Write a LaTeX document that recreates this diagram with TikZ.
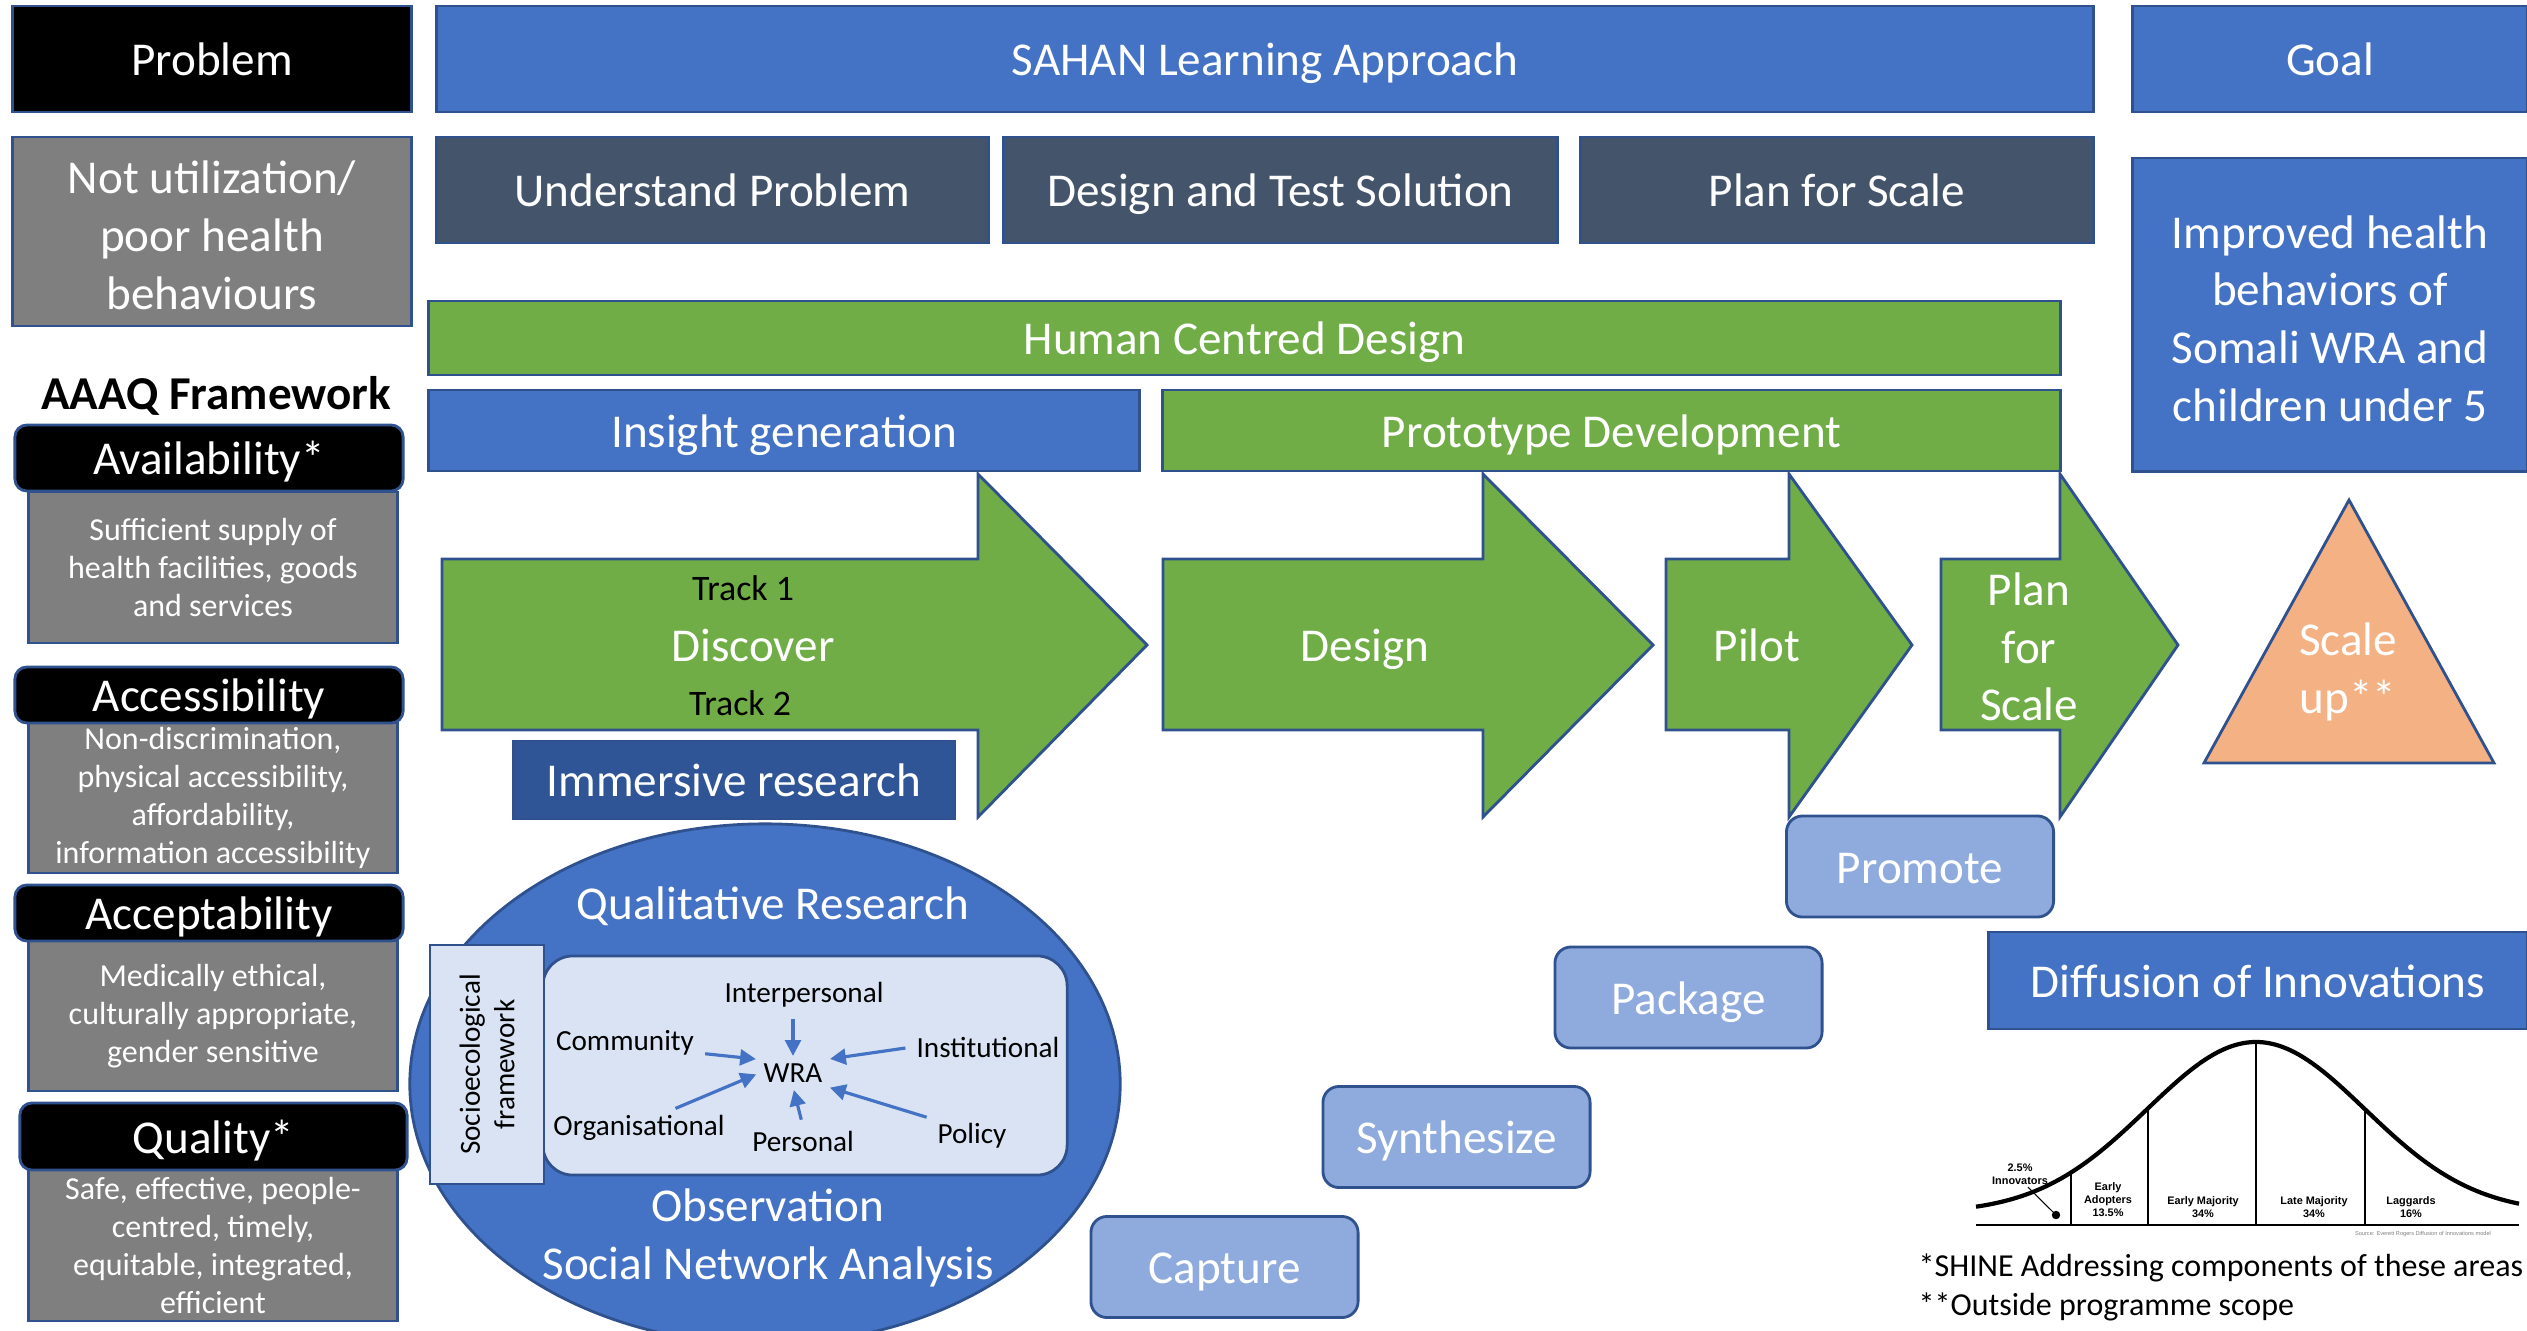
\documentclass[tikz,border=0pt]{standalone}
\usepackage{fontspec}
\setmainfont{Carlito}
\newfontfamily\arialf{Liberation Sans}
\usetikzlibrary{shapes.geometric,arrows.meta}

\definecolor{blu}{HTML}{4472C4}
\definecolor{edge}{HTML}{2F528F}
\definecolor{slate}{HTML}{44546A}
\definecolor{grn}{HTML}{70AD47}
\definecolor{gry}{HTML}{7F7F7F}
\definecolor{lblu}{HTML}{8FAADC}
\definecolor{pale}{HTML}{DAE3F3}
\definecolor{orng}{HTML}{F4B183}
\definecolor{dblu}{HTML}{2F5597}

\newcommand\fbig{\fontsize{13.4}{16.4}\selectfont}
\newcommand\fmid{\fontsize{9.1}{10.8}\selectfont}
\newcommand\ftrk{\fontsize{10.2}{12}\selectfont}
\newcommand\fsml{\fontsize{8.3}{9.8}\selectfont}
\newcommand\fbell{\arialf\bfseries\fontsize{3.1}{3.7}\selectfont}

\begin{document}
\begin{tikzpicture}[x=0.01cm,y=-0.01cm]
  \tikzstyle{bx}=[draw=edge,line width=0.8pt,inner sep=0pt,text=white,font=\fbig,align=center]
  \tikzstyle{one}=[text height=9.4pt,text depth=0pt]
  \tikzstyle{hd}=[bx,one,fill=black,rounded corners=0.12cm,minimum width=3.88cm]
  \tikzstyle{gb}=[bx,fill=gry,font=\fmid,minimum width=3.68cm]
  \tikzstyle{lb}=[bx,one,fill=lblu,rounded corners=0.16cm,minimum width=2.67cm,minimum height=1.01cm]
  \tikzstyle{ar}=[draw=edge,line width=0.8pt,fill=grn]
  \tikzstyle{t}=[text=white,font=\fbig,align=center,inner sep=0pt]
  \tikzstyle{s}=[font=\fsml,inner sep=1pt]
  \tikzstyle{p}=[draw=blu,line width=0.9pt,-{Triangle[length=4.5pt,width=4.5pt]},shorten >=1pt,shorten <=2pt]
  \tikzstyle{bl}=[font=\fbell,align=center,inner sep=0pt]

  \useasboundingbox (0,0) rectangle (2527,1330);

  % header rows
  \node[bx,one,fill=black,minimum width=3.98cm,minimum height=1.06cm] (problem) at (212,59) {Problem};
  \node[bx,one,fill=blu,minimum width=16.56cm,minimum height=1.06cm] (sahan) at (1265,59) {SAHAN Learning Approach};
  \node[bx,one,fill=blu,minimum width=3.95cm,minimum height=1.06cm] (goal) at (2330,59) {Goal};

  \node[bx,fill=gry,minimum width=3.98cm,minimum height=1.89cm] (notutil) at (212,231.5) {\strut Not utilization/\\poor health\\behaviours};
  \node[bx,one,fill=slate,minimum width=5.51cm,minimum height=1.06cm] (understand) at (712.5,190) {Understand Problem};
  \node[bx,one,fill=slate,minimum width=5.53cm,minimum height=1.06cm] (designtest) at (1280.5,190) {Design and Test Solution};
  \node[bx,one,fill=slate,minimum width=5.12cm,minimum height=1.06cm] (planscale) at (1837,190) {Plan for Scale};
  \node[bx,fill=blu,minimum width=3.95cm,minimum height=3.13cm] (improved) at (2330,314.5) {\strut Improved health\\behaviors of\\Somali WRA and\\children under 5};

  \node[bx,one,fill=grn,minimum width=16.31cm,minimum height=0.74cm] (hcd) at (1244.5,338) {Human Centred Design};
  \node[bx,one,fill=blu,minimum width=7.10cm,minimum height=0.81cm] (insight) at (784,430.5) {Insight generation};
  \node[bx,one,fill=grn,minimum width=8.97cm,minimum height=0.81cm] (proto) at (1611.5,430.5) {Prototype Development};

  % AAAQ column
  \node[font=\fbig\bfseries,inner sep=0pt] (aaaq) at (216,396) {AAAQ Framework};

  \node[gb,minimum height=1.51cm] (availtxt) at (213,567.5) {Sufficient supply of\\health facilities, goods\\and services};
  \node[hd,minimum height=0.66cm] (avail) at (209,458) {Availability*};
  \node[gb,minimum height=1.50cm] (accesstxt) at (213,798) {Non-discrimination,\\physical accessibility,\\affordability,\\information accessibility};
  \node[hd,minimum height=0.56cm] (access) at (209,695) {Accessibility};
  \node[gb,minimum height=1.50cm] (accepttxt) at (213,1016) {Medically ethical,\\culturally appropriate,\\gender sensitive};
  \node[hd,minimum height=0.56cm] (accept) at (209,913) {Acceptability};
  \node[gb,minimum height=1.51cm] (qualitytxt) at (213,1245.5) {Safe, effective, people-\\centred, timely,\\equitable, integrated,\\efficient};
  \node[hd,minimum height=0.67cm,minimum width=3.87cm] (quality) at (213.5,1136.5) {Quality*};

  % process arrows
  \draw[ar] (442,559) -- (978,559) -- (978,474) -- (1147,645) -- (978,817) -- (978,730) -- (442,730) -- cycle;
  \draw[ar] (1163,559) -- (1483,559) -- (1483,474) -- (1653,645) -- (1483,817) -- (1483,730) -- (1163,730) -- cycle;
  \draw[ar] (1666,559) -- (1789,559) -- (1789,474) -- (1912,645) -- (1789,817) -- (1789,730) -- (1666,730) -- cycle;
  \draw[ar] (1941,559) -- (2060,559) -- (2060,474) -- (2178,645) -- (2060,817) -- (2060,730) -- (1941,730) -- cycle;

  \node[font=\ftrk,inner sep=0pt] (track1) at (743,588) {Track 1};
  \node[t,one] (discover) at (753,645) {Discover};
  \node[font=\ftrk,inner sep=0pt] (track2) at (740,703) {Track 2};
  \node[t,one] (design) at (1365,645) {Design};
  \node[t,one] (pilot) at (1757,645) {Pilot};
  \node[t] (plan) at (2029,647) {Plan\\for\\Scale};

  \node[bx,one,fill=dblu,minimum width=4.40cm,minimum height=0.78cm] (immersive) at (734,780) {Immersive research};

  \draw[draw=edge,line width=0.8pt,fill=orng] (2349,500) -- (2494,763) -- (2204,763) -- cycle;
  \node[t] (scaleup) at (2348,672) {Scale\\up**};

  % steps
  \node[lb] (promote) at (1920,866.5) {Promote};
  \node[lb] (package) at (1688.5,997.5) {Package};
  \node[lb] (synth) at (1456.5,1137) {Synthesize};
  \node[lb] (capture) at (1224.5,1267) {Capture};

  \node[bx,one,fill=blu,minimum width=5.38cm,minimum height=0.97cm] (diffusion) at (2258,980.5) {Diffusion of Innovations};

  % qualitative research
  \node[ellipse,draw=edge,line width=0.8pt,fill=blu,minimum width=7.10cm,minimum height=5.20cm] (qual) at (765,1084) {};
  \node[draw=edge,line width=0.8pt,fill=pale,rounded corners=0.3cm,minimum width=5.24cm,minimum height=2.19cm] (inner) at (805,1065.5) {};
  \node[draw=edge,line width=0.8pt,fill=pale,minimum width=1.14cm,minimum height=2.39cm] (socio) at (487,1064.5) {};
  \node[s,rotate=90,align=center,inner sep=0pt] (sociotxt) at (487,1064.5) {Socioecological\\framework};
  \node[t,one] (qualtxt) at (773,903) {Qualitative Research};
  \node[t] (obs) at (768,1238) {Observation\\Social Network Analysis};

  \node[s] (wra) at (793,1073) {WRA};
  \node[s] (intp) at (804,995) {Interpersonal};
  \node[s] (comm) at (625,1043) {Community};
  \node[s] (inst) at (988,1047) {Institutional};
  \node[s] (org) at (639,1128) {Organisational};
  \node[s] (pers) at (803,1141) {Personal};
  \node[s] (pol) at (972,1136) {Policy};

  \draw[p] ([yshift=-0.1cm]comm.east) -- (wra.north west);
  \draw[p] (intp.south -| wra.north) -- (wra.north);
  \draw[p] (inst.west) -- (wra.north east);
  \draw[p] ([xshift=0.3cm]org.north) -- (wra.west);
  \draw[p] (pers.north) -- (wra.south);
  \draw[p] (pol.north west) -- (wra.south east);

  % adoption curve
  \draw[line width=0.6pt] (1976,1225) coordinate (b0) -- (2519,1225) coordinate (b1);
  \draw[line width=1.2pt] plot[domain=1976:2519,samples=90,smooth] (\x,{1213-171*exp(0-0.5*(((\x-2256)/109)^2))});
  \draw[line width=0.4pt] (2071,1225) -- (2071,1172.5);
  \draw[line width=0.4pt] (2148,1225) -- (2148,1108.3);
  \draw[line width=0.4pt] (2256,1225) -- (2256,1042);
  \draw[line width=0.4pt] (2365,1225) -- (2365,1109.3);
  \node[bl] (innov) at (2020,1174) {2.5\%\\Innovators};
  \fill (2056,1215) circle (1.2pt) coordinate (dot);
  \draw[line width=0.3pt] (innov.south) ++(8,2) -- (dot);
  \node[bl] (early) at (2108,1200) {Early\\Adopters\\13.5\%};
  \node[bl] (emaj) at (2203,1207) {Early Majority\\34\%};
  \node[bl] (lmaj) at (2314,1207) {Late Majority\\34\%};
  \node[bl] (lagg) at (2411,1207) {Laggards\\16\%};
  \node[font=\arialf\fontsize{1.6}{2}\selectfont,text=gray,inner sep=0pt] (src) at (2423,1234) {Source: Everett Rogers Diffusion of Innovations model};

  % notes
  \node[font=\fmid,anchor=west,inner sep=0pt] (note1) at (1918,1268) {*SHINE Addressing components of these areas};
  \node[font=\fmid,anchor=west,inner sep=0pt] (note2) at (1918,1307) {**Outside programme scope};
\end{tikzpicture}
\end{document}
